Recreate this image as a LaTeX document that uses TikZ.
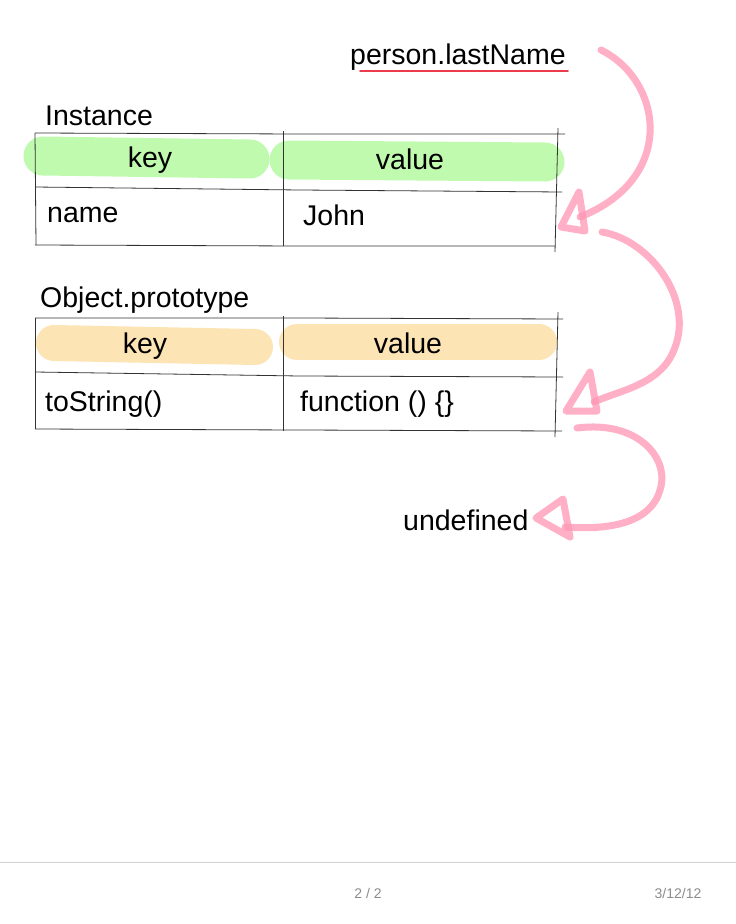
\documentclass[tikz,border=0pt]{standalone}
\usepackage{fontspec}
\setmainfont{Liberation Sans}
\begin{document}
\begin{tikzpicture}[x=1pt,y=-1pt,
  txt/.style={inner sep=0pt,font=\fontsize{28.5}{30}\selectfont,text=black},
  grid/.style={draw=black!80,line width=0.8pt},
  hlgreen/.style={draw=green!60!lime!45!white,line width=39pt,line cap=round,draw opacity=0.85},
  hlorange/.style={draw=orange!35!yellow!40!white,line width=36pt,line cap=round,draw opacity=0.85},
  pinkpen/.style={draw=pinkcol,line width=7pt,line cap=round,line join=round,draw opacity=0.75},
  foot/.style={inner sep=0pt,font=\fontsize{14}{16}\selectfont,text=black!45}]
\definecolor{pinkcol}{RGB}{255,150,180}
\definecolor{greenhl}{RGB}{180,250,160}
\definecolor{orangehl}{RGB}{253,224,168}
\definecolor{underred}{RGB}{235,60,75}
\tikzset{hlgreen/.append style={draw=greenhl},hlorange/.append style={draw=orangehl}}
\useasboundingbox[fill=white] (0,0) rectangle (736,924);

% highlights
\draw[hlgreen] (43,156) -- (250,159);
\draw[hlgreen] (289,160) -- (545,162);
\draw[hlorange] (54,343) -- (255,347);
\draw[hlorange] (297,342) -- (539,342);

% table 1
\draw[grid] (35,133) -- (300,134) -- (565,134);
\draw[grid] (35,187) -- (300,190) -- (562,192);
\draw[grid] (35,245) -- (300,246) -- (555,246);
\draw[grid] (35,133) -- (36,245);
\draw[grid] (283,131) -- (283,246);
\draw[grid] (558,128) -- (555,252);

% table 2
\draw[grid] (35,318) -- (300,318) -- (563,319);
\draw[grid] (35,372) -- (300,376) -- (563,377);
\draw[grid] (35,429) -- (300,430) -- (562,431);
\draw[grid] (35,318) -- (35,429);
\draw[grid] (283,316) -- (283,431);
\draw[grid] (558,312) -- (555,437);

% texts
\node[txt,anchor=base west] (expr) at (350,64) {person.lastName};
\draw[underred,line width=1.6pt,line cap=round] (360,71) -- (568,71);
\node[txt,anchor=base west] (inst) at (45,125) {Instance};
\node[txt,anchor=base] (k1) at (150,167) {key};
\node[txt,anchor=base] (v1) at (410,169) {value};
\node[txt,anchor=base west] (n1) at (47,222) {name};
\node[txt,anchor=base west] (j1) at (303,225) {John};
\node[txt,anchor=base west] (proto) at (40,307) {Object.prototype};
\node[txt,anchor=base] (k2) at (145,353) {key};
\node[txt,anchor=base] (v2) at (408,353) {value};
\node[txt,anchor=base west] (ts) at (45,411) {toString()};
\node[txt,anchor=base west] (fn) at (300,411) {function () \{\}};
\node[txt,anchor=base west] (undef) at (403,530) {undefined};

% pink arrows
\coordinate (a1s) at (601,50);
\coordinate (a1e) at (580,217);
\coordinate (a2s) at (602,232);
\coordinate (a2e) at (594,402);
\coordinate (a3s) at (577,428);
\coordinate (a3e) at (565,527);
\draw[pinkpen] (a1s) .. controls (662,80) and (678,178) .. (a1e);
\draw[pinkpen] (579,192) -- (561,227) -- (585,231) -- cycle;
\draw[pinkpen] (a2s) .. controls (650,240) and (695,300) .. (674,350) .. controls (660,385) and (620,390) .. (a2e);
\draw[pinkpen] (590,372) -- (566,411) -- (597,411) -- cycle;
\draw[pinkpen] (a3s) .. controls (640,420) and (670,460) .. (660,490) .. controls (650,525) and (605,530) .. (a3e);
\draw[pinkpen] (563,499) -- (536,518) -- (570,537) -- cycle;

% footer
\draw[black!18,line width=1pt] (0,862) -- (736,862);
\node[foot,anchor=base] (pg) at (368,898) {2 / 2};
\node[foot,anchor=base] (dt) at (678,898) {3/12/12};
\end{tikzpicture}
\end{document}
